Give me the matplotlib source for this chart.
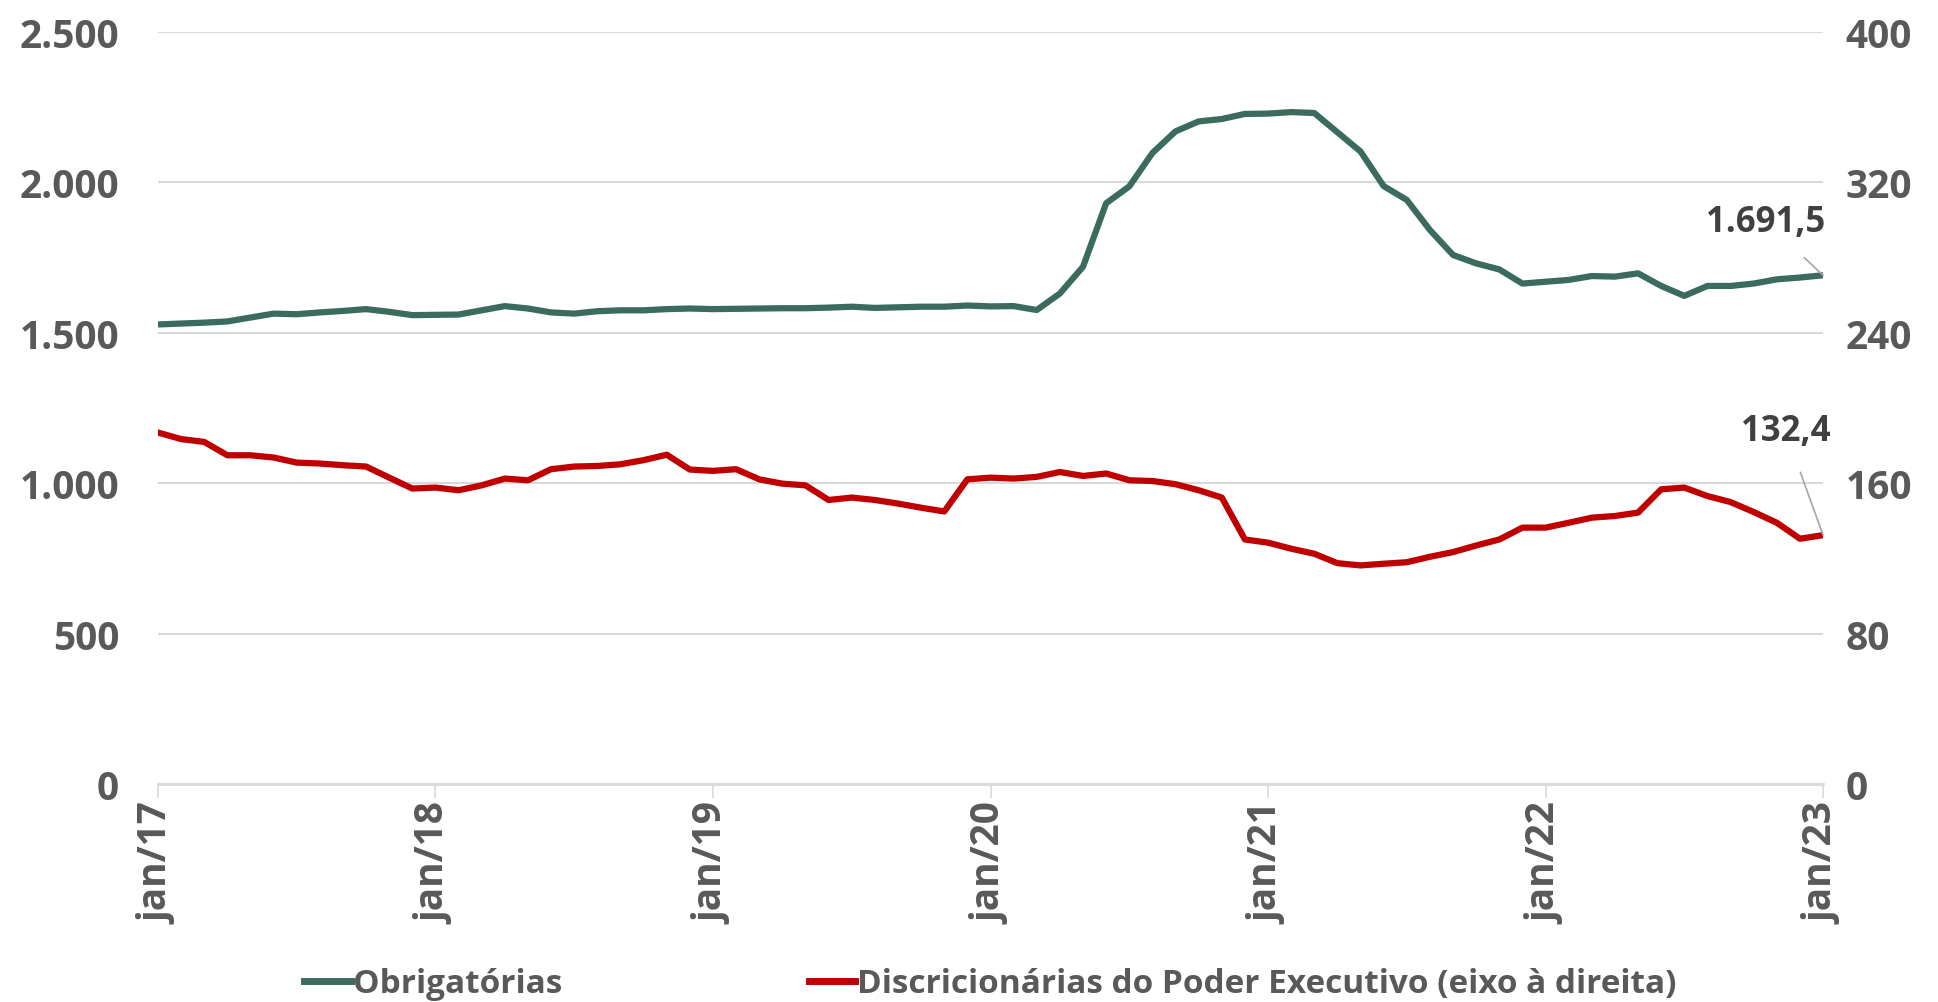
import numpy as np
import pandas as pd
import matplotlib
matplotlib.use("Agg")
import matplotlib.pyplot as plt

# monthly series, jan/17 .. jan/23 (73 points)
months = pd.date_range("2017-01-01", "2023-01-01", freq="MS")

obrigatorias = [
    1528, 1531, 1534, 1538, 1551, 1564, 1562, 1568, 1573, 1579, 1570, 1559,   # 2017
    1560, 1561, 1575, 1589, 1581, 1568, 1564, 1572, 1575, 1575, 1579, 1581,   # 2018
    1579, 1580, 1581, 1582, 1582, 1584, 1587, 1583, 1585, 1587, 1587, 1591,   # 2019
    1588, 1589, 1576, 1631, 1720, 1931, 1987, 2098, 2170, 2203, 2211, 2228,   # 2020
    2229, 2234, 2231, 2167, 2103, 1988, 1942, 1842, 1759, 1731, 1711, 1664,   # 2021
    1670, 1676, 1689, 1687, 1698, 1656, 1623, 1656, 1656, 1664, 1678, 1684,   # 2022
    1691.5,                                                                   # jan/23
]

discricionarias = [
    187.0, 183.5, 182.0, 174.9, 174.9, 173.7, 171.0, 170.5, 169.6, 168.9, 163.0, 157.2,
    157.7, 156.3, 158.9, 162.5, 161.6, 167.5, 168.9, 169.2, 170.1, 172.3, 175.2, 167.3,
    166.6, 167.5, 162.1, 159.8, 158.9, 151.1, 152.4, 151.1, 149.2, 147.0, 145.0, 162.1,
    163.0, 162.5, 163.4, 166.0, 163.9, 165.2, 161.6, 161.2, 159.5, 156.3, 152.4, 130.1,
    128.4, 125.2, 122.5, 117.5, 116.3, 117.2, 118.0, 120.9, 123.4, 126.9, 130.1, 136.4,
    136.4, 139.0, 141.7, 142.6, 144.4, 156.8, 157.7, 153.2, 150.0, 144.7, 139.0, 130.5,
    132.4,
]

xtick_labels = ["jan/17", "jan/18", "jan/19", "jan/20", "jan/21", "jan/22", "jan/23"]
left_ticks = [0, 500, 1000, 1500, 2000, 2500]
right_ticks = [0, 80, 160, 240, 320, 400]

green = "#3b6b5f"
red = "#c00000"
label_gray = "#595959"
grid_gray = "#d9d9d9"

plt.rcParams["font.family"] = ["Open Sans", "DejaVu Sans"]
plt.rcParams["font.weight"] = "bold"
fw = "bold"

fig = plt.figure(figsize=(19.38, 10.03), dpi=100)
ax = fig.add_axes([0.0815, 0.2173, 0.8592, 0.7497])
ax2 = ax.twinx()

x = np.arange(len(months))
ax.plot(x, obrigatorias, color=green, lw=4.5, solid_joinstyle="round", solid_capstyle="round", zorder=3)
ax2.plot(x, discricionarias, color=red, lw=4.5, solid_joinstyle="round", solid_capstyle="round", zorder=3)

ax.set_xlim(0, len(months) - 1)
ax.set_ylim(0, 2500)
ax2.set_ylim(0, 400)

ax.set_yticks(left_ticks)
ax.set_yticklabels([f"{v:,}".replace(",", ".") for v in left_ticks], fontweight=fw)
ax2.set_yticks(right_ticks)
ax2.set_yticklabels([str(v) for v in right_ticks], fontweight=fw)

year_pos = np.arange(0, len(months), 12)
ax.set_xticks(year_pos)
ax.set_xticklabels(xtick_labels, rotation=90, va="top", ha="center", fontweight=fw)

ax.grid(axis="y", color=grid_gray, lw=1.5, zorder=0)
ax.set_axisbelow(True)

for a in (ax, ax2):
    for s in ("left", "right", "top", "bottom"):
        a.spines[s].set_visible(False)
ax.spines["bottom"].set_visible(True)
ax.spines["bottom"].set_color(grid_gray)
ax.spines["bottom"].set_linewidth(2)

ax.tick_params(axis="x", length=10, width=1.2, color=grid_gray, pad=3,
               labelsize=28, labelcolor=label_gray)
ax.tick_params(axis="y", length=0, pad=28, labelsize=28, labelcolor=label_gray)
ax2.tick_params(axis="y", length=0, pad=16, labelsize=28, labelcolor=label_gray)

# end-point labels
ax.annotate("1.691,5", xy=(x[-1], obrigatorias[-1]), xytext=(x[-1] + 0.1, 1870),
            ha="right", va="center", fontsize=25, fontweight=fw, color="#404040",
            arrowprops=dict(arrowstyle="-", color="#a6a6a6", lw=1.2, shrinkA=16, shrinkB=0))
ax2.annotate("132,4", xy=(x[-1], discricionarias[-1]), xytext=(x[-1] + 0.3, 188),
             ha="right", va="center", fontsize=25, fontweight=fw, color="#404040",
             arrowprops=dict(arrowstyle="-", color="#a6a6a6", lw=1.2, shrinkA=16, shrinkB=0))

h1, = ax.plot([], [], color=green, lw=5)
h2, = ax.plot([], [], color=red, lw=5)
fig.legend([h1, h2], ["Obrigatórias", "Discricionárias do Poder Executivo (eixo à direita)"],
           loc="center", bbox_to_anchor=(0.511, 0.018), ncol=2, frameon=False,
           prop={"size": 24, "weight": fw}, labelcolor=label_gray,
           handlelength=1.4, handletextpad=0.05, columnspacing=7.4)

fig.savefig("out.png", dpi=100, facecolor="white")
